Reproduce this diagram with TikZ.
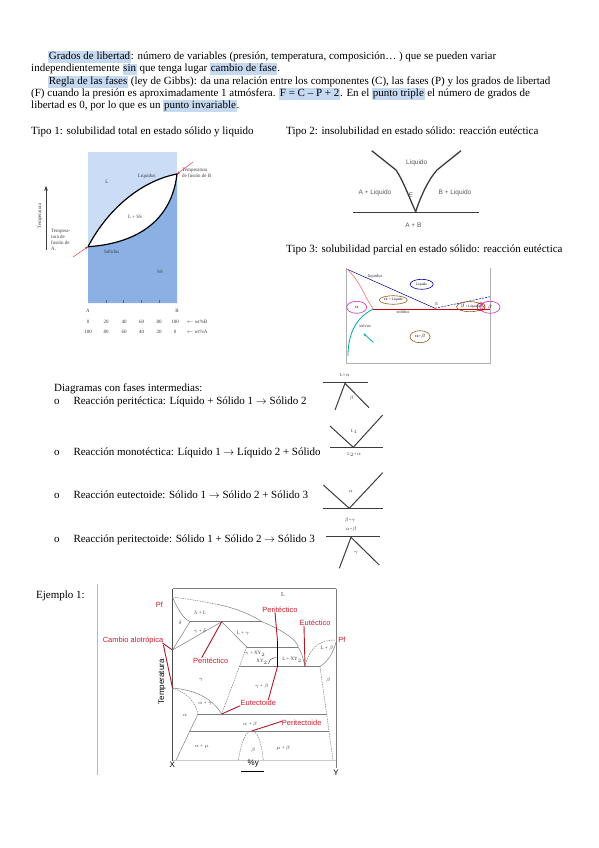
\documentclass[tikz,border=0pt]{standalone}
\usepackage{fontspec}
\setmainfont{Liberation Serif}
\newfontfamily\labsans{Liberation Sans}
\usetikzlibrary{arrows.meta,shapes.geometric}

\definecolor{hlblue}{RGB}{197,217,241}
\definecolor{liqblue}{RGB}{202,220,246}
\definecolor{solblue}{RGB}{139,177,228}
\definecolor{redmark}{RGB}{205,30,45}
\definecolor{phline}{RGB}{125,125,125}
\definecolor{inkgrey}{RGB}{60,60,60}
\definecolor{ringbrown}{RGB}{150,90,30}
\definecolor{ringpink}{RGB}{210,40,200}

\newcommand{\hl}[1]{{\setlength{\fboxsep}{0.7pt}\colorbox{hlblue}{\rule[-2.8pt]{0pt}{9.8pt}#1}}}

\tikzset{
  bodyline/.style={anchor=base west, inner sep=0pt, font=\fontsize{11}{12}\selectfont},
  tinylab/.style={inner sep=0pt, font=\fontsize{5}{6}\selectfont, text=inkgrey},
  minilab/.style={inner sep=0pt, font=\fontsize{4.5}{5}\selectfont, text=inkgrey},
  sanslab/.style={inner sep=0pt, font=\labsans\fontsize{6.5}{7}\selectfont, text=black!65},
  redlab/.style={inner sep=0pt, font=\labsans\fontsize{7.5}{8}\selectfont, text=redmark},
  redline/.style={draw=redmark!85!black, line width=0.9pt},
  phase/.style={draw=phline, line width=0.5pt},
  phdash/.style={phase, dash pattern=on 1.5pt off 1pt},
  vline/.style={draw=inkgrey, line width=1pt},
  ring/.style={ellipse, draw, line width=0.6pt, inner sep=0pt, font=\fontsize{3.5}{4}\selectfont},
}

\begin{document}
\begin{tikzpicture}[x=1pt,y=-1pt,>=Stealth]
\useasboundingbox[fill=white] (0,0) rectangle (599,848);

% texto de arriba
\node[bodyline] (g1) at (48,59.5) {\hl{Grados de libertad}: número de variables (presión, temperatura, composición… ) que se pueden variar};
\node[bodyline] (g2) at (31,71.8) {independientemente \hl{sin} que tenga lugar \hl{cambio de fase}.};
\node[bodyline] (g3) at (48,84.2) {\hl{Regla de las fases} (ley de Gibbs): da una relación entre los componentes (C), las fases (P) y los grados de libertad};
\node[bodyline] (g4) at (31,96.2) {(F) cuando la presión es aproximadamente 1 atmósfera. \hl{F = C – P + 2}. En el \hl{punto triple} el número de grados de};
\node[bodyline] (g5) at (31,108.5) {libertad es 0, por lo que es un \hl{punto invariable}.};

\node[bodyline] (tipo1) at (31,134.5) {Tipo 1: solubilidad total en estado sólido y liquido};
\node[bodyline] (tipo2) at (286,134.5) {Tipo 2: insolubilidad en estado sólido: reacción eutéctica};
\node[bodyline] (tipo3) at (286,252.5) {Tipo 3: solubilidad parcial en estado sólido: reacción eutéctica};

% Tipo 1
\coordinate (tA) at (88,246.7);
\coordinate (tB) at (177,174);
\fill[liqblue] (88,152) rectangle (177,303);
\fill[solblue] (tA) .. controls (115,245) and (170,235) .. (tB) -- (177,303) -- (88,303) -- cycle;
\fill[white] (tA) .. controls (110,205) and (145,180) .. (tB) .. controls (170,235) and (115,245) .. (tA);
\draw[line width=1.2pt] (tA) .. controls (110,205) and (145,180) .. (tB);
\draw[line width=1.2pt] (tA) .. controls (115,245) and (170,235) .. (tB);
\foreach \x in {105.8,123.6,141.4,159.2}
  \draw[solblue!60!black] (\x,303) -- (\x,300);
\node[tinylab] (liqs) at (146.7,176.7) {Liquidus};
\node[tinylab] (reL) at (107,181.7) {L};
\node[tinylab] (reLS) at (135,216.7) {L + SS};
\node[tinylab] (sols) at (111.7,251.7) {Sólidus};
\node[tinylab] (reSS) at (160,271.7) {SS};
\node[tinylab, align=left, anchor=north west] (tfb) at (182,168) {Temperatura\\de fusión de B};
\node[tinylab, align=left, anchor=north west] (tfa) at (51,229) {Tempera-\\tura de\\fusión de\\A.};
\node[tinylab, rotate=90] (tax) at (40,216) {Temperatura};
\draw[->, inkgrey] (46,250) -- (46,186);
\draw[redmark, -{Stealth[length=3pt,width=2.5pt]}] (193,162) -- (tB);
\draw[redmark, -{Stealth[length=3pt,width=2.5pt]}] (73,257) -- (tA);
\node[tinylab] (ax1) at (88,311) {A};
\node[tinylab] (bx1) at (177,311) {B};
\foreach \x/\v in {88/0,106/20,124/40,141.5/60,159/80,175/100}
  \node[tinylab] at (\x,321.7) {\v};
\foreach \x/\v in {88/100,106/80,124/60,141.5/40,159/20,175/0}
  \node[tinylab] at (\x,331.7) {\v};
\node[tinylab] (wtb) at (197,321.7) {$\leftarrow$ wt\%B};
\node[tinylab] (wta) at (197,331.7) {$\leftarrow$ wt\%A};

% Tipo 2
\draw[vline, line width=1.3pt] (353.3,212.7) -- (479,212.7);
\coordinate (eut2) at (415.7,211.7);
\draw[vline, line width=1.3pt] (371.7,150.7) -- (396,170) .. controls (404,182) and (410,200) .. (eut2);
\draw[vline, line width=1.3pt] (eut2) .. controls (420,198) and (428,180) .. (437,170) -- (461,150.7);
\node[sanslab] (liq2) at (416.7,162.7) {Liquido};
\node[sanslab] (al2) at (375,192.7) {A + Liquido};
\node[sanslab] (e2) at (410.7,195) {E};
\node[sanslab] (bl2) at (455,192.7) {B + Liquido};
\node[sanslab] (ab2) at (413.3,225) {A + B};

% Tipo 3
\draw[gray!60, line width=0.7pt] (346.7,268) -- (346.7,363.3) -- (490,363.3) -- (490,268);
\coordinate (te3) at (435,308.3);
\coordinate (ts3) at (373.3,309);
\draw[blue!60!black, line width=0.5pt] (346.7,269) -- (te3);
\draw[blue!60!black, line width=0.5pt, dash pattern=on 2pt off 1.2pt] (te3) -- (490,296.7);
\draw[red!80!black, line width=0.8pt] (ts3) -- (490,309);
\draw[red!50, line width=0.7pt] (346.7,269) .. controls (360,280) and (366,300) .. (ts3);
\draw[teal!70!cyan, line width=0.8pt] (ts3) .. controls (355,318) and (348,335) .. (348,356);
\draw[teal!70!cyan, line width=0.8pt, -{Stealth[length=3pt]}] (373.3,342.3) -- (363.3,333.3);
\node[minilab] (liqs3) at (375,276.7) {liquidus};
\node[minilab] (sols3) at (403,312.3) {sólidus};
\node[minilab] (solv3) at (365,325.7) {solvus};
\node[minilab] (e3) at (436.7,304.3) {E};
\node[ring, draw=blue!70!black, minimum width=23pt, minimum height=10pt] (r1) at (421.7,284.3) {Líquido};
\node[ring, draw=ringbrown, minimum width=28pt, minimum height=8.5pt] (r2) at (393.3,300) {$\alpha$ + Líquido};
\node[ring, draw=ringbrown, minimum width=23pt, minimum height=10pt] (r3) at (470,306.7) {$\beta$ + Líquido};
\node[ring, draw=red!80!black, circle, minimum size=8pt] (r4) at (481,306.7) {$\beta$};
\node[ring, draw=ringpink, minimum width=20pt, minimum height=12pt] (r5) at (356.7,307.3) {$\alpha$};
\node[ring, draw=ringpink, minimum width=20pt, minimum height=12pt] (r6) at (490,307.3) {$\beta$};
\node[ring, draw=ringbrown, minimum width=20pt, minimum height=12pt] (r7) at (420,336.7) {$\alpha$+$\beta$};

% fases intermedias
\node[bodyline] (dfi) at (54,391.5) {Diagramas con fases intermedias:};
\foreach \n/\y/\txt in {1/404.2/Reacción peritéctica: Líquido + Sólido 1 $\rightarrow$ Sólido 2,
    2/455.8/Reacción monotéctica: Líquido 1 $\rightarrow$ Líquido 2 + Sólido,
    3/498.8/Reacción eutectoide: Sólido 1 $\rightarrow$ Sólido 2 + Sólido 3,
    4/542.2/Reacción peritectoide: Sólido 1 + Sólido 2 $\rightarrow$ Sólido 3} {
  \node[bodyline] (o\n) at (54,\y) {o};
  \node[bodyline] (r\n) at (73.3,\y) {\txt};
}
% peritectica
\coordinate (pv) at (345,383.3);
\draw[vline] (323.3,382.3) -- (368.3,382.3);
\draw[vline] (335,410) -- (pv) -- (369,407.7);
\node[minilab] (pl1) at (345,375) {L+$\alpha$};
\node[minilab] (pl2) at (351.7,398.3) {$\beta$};
% monotectica
\coordinate (mv) at (353.3,447.3);
\draw[vline] (330,447.3) -- (382.7,447.3);
\draw[vline] (330,426) -- (mv) -- (382.7,415);
\node[minilab] (ml1) at (354.3,431.7) {L$_1$};
\node[minilab] (ml2) at (354.3,454.3) {L$_2$+$\alpha$};
% eutectoide
\coordinate (ev) at (349.3,508.3);
\draw[vline] (323.3,508.3) -- (382.7,508.3);
\draw[vline] (323.3,485) -- (ev) -- (382.7,472.7);
\node[minilab] (el1) at (350.7,491.7) {$\alpha$};
\node[minilab] (el2) at (350,520) {$\beta$+$\gamma$};
% peritectoide
\coordinate (qv) at (351,537.3);
\draw[vline] (326,536.7) -- (380,536.7);
\draw[vline] (339.3,568.3) -- (qv) -- (379.3,565);
\node[minilab] (ql1) at (351,529.3) {$\alpha$+$\beta$};
\node[minilab] (ql2) at (356,553.3) {$\gamma$};

% Ejemplo 1
\node[bodyline] (ej) at (36,598.5) {Ejemplo 1:};
\draw[gray!55, line width=0.8pt] (97.7,584) -- (97.7,775);

\coordinate (pfx) at (172.5,597);
\coordinate (pA) at (190,621.7);
\coordinate (pB) at (221.7,621.7);
\coordinate (pC) at (262,621.7);
\coordinate (alo1) at (172.5,650);
\coordinate (alo2) at (172.5,688);
\coordinate (pD) at (246.7,647);
\coordinate (pF) at (298,647);
\coordinate (xytop) at (277.5,641);
\coordinate (xybot) at (277.5,666.5);
\coordinate (eu) at (305,666.5);
\coordinate (eL) at (239.4,666.5);
\coordinate (eR) at (320,666.5);
\coordinate (pfy) at (336,640);
\coordinate (ed) at (221.7,714);
\coordinate (edL) at (198,714);
\coordinate (edR) at (326.6,714);
\coordinate (ptd) at (251.7,731);
\coordinate (ptL) at (190,731);
\coordinate (ptR) at (329,731);

\draw[phase] (172.5,588.5) -- (336,588.5);
\draw[phase, gray!40] (172.5,760) -- (336,760);
\draw[draw=black!70, line width=0.6pt] (172.5,588.5) -- (172.5,761);
\draw[phase] (336,588.5) -- (336,768);
\draw[phdash] (pfx) .. controls (195,600) and (205,602) .. (218,604.5);
\draw[phase] (218,604.5) .. controls (235,608) and (250,614) .. (pC) .. controls (280,629) and (298,640) .. (pF) .. controls (302,654) .. (eu);
\draw[phase] (pfx) .. controls (178,610) and (183,618) .. (pA);
\draw[phase] (pA) -- (alo1);
\draw[phase] (alo1) -- (pB);
\draw[phase] (pA) -- (pC);
\draw[phase] (pB) -- (pD);
\draw[phase] (pD) -- (pF);
\draw[phdash] (pD) -- (ed);
\draw[phase] (eL) -- (eR);
\draw[black, line width=0.9pt] (xytop) -- (xybot);
\draw[phase, draw=black!70] (268.5,664) .. controls (270,659) .. (276,657.5);
\draw[phdash] (eu) .. controls (310,645) and (322,640) .. (pfy);
\draw[phase] (eR) .. controls (330,660) and (334,650) .. (336,642);
\draw[phdash] (eR) -- (333,760);
\draw[phase] (edL) -- (edR);
\draw[phase] (ptL) -- (ptR);
\draw[phase] (alo2) .. controls (195,690) and (212,698) .. (ed);
\draw[phdash] (alo2) .. controls (185,692) and (195,700) .. (edL);
\draw[phase] (edL) -- (176,760);
\draw[phdash] (238.3,760) .. controls (242,740) and (246,731) .. (ptd) .. controls (257,731) and (261,740) .. (263.3,760);

\node[tinylab, font=\fontsize{6}{7}\selectfont] (fL) at (283,595) {L};
\node[tinylab] (fd) at (180,623) {$\delta$};
\node[tinylab] (fdL) at (200,613) {$\lambda$ + L};
\node[tinylab] (fgd) at (200,631) {$\gamma$ + $\delta$};
\node[tinylab] (fLg) at (243,633) {L + $\gamma$};
\node[tinylab] (fgxy) at (255,654) {$\gamma$ + XY$_2$};
\node[tinylab] (fxy) at (262,661.7) {XY$_2$};
\node[tinylab] (fLxy) at (292,660) {L + XY$_2$};
\node[tinylab] (fLb) at (327,648) {L + $\beta$};
\node[tinylab] (fb) at (328.3,680) {$\beta$};
\node[tinylab] (fg) at (201,680) {$\gamma$};
\node[tinylab] (fgb) at (261.7,686.7) {$\gamma$ + $\beta$};
\node[tinylab] (fa) at (185,715) {$\alpha$};
\node[tinylab] (fag) at (205,703.3) {$\alpha$ + $\gamma$};
\node[tinylab] (fab) at (250,724) {$\alpha$ + $\beta$};
\node[tinylab] (fam) at (201.7,746.7) {$\alpha$ + $\mu$};
\node[tinylab] (fb2) at (253.3,750) {$\beta$};
\node[tinylab] (fmb) at (283.3,748) {$\mu$ + $\beta$};

\node[inner sep=0pt, font=\labsans\fontsize{8}{9}\selectfont, rotate=90] (ftemp) at (162.3,681.7) {Temperatura};
\node[inner sep=0pt, font=\labsans\fontsize{8}{9}\selectfont] (fx) at (172.3,765) {X};
\node[inner sep=0pt, font=\labsans\fontsize{8}{9}\selectfont] (fy) at (336,773) {Y};
\node[inner sep=0pt, font=\labsans\fontsize{8}{9}\selectfont] (fpy) at (253.3,764) {\%y};
\draw[line width=0.8pt] (241,771) -- (264,771);

\node[redlab] (lpf) at (159.3,605) {Pf};
\node[redlab] (lpfy) at (342,640) {Pf};
\node[redlab] (lca) at (133,641) {Cambio alotrópica};
\draw[redline] ([shift={(-1,2)}]lca.east) -- (alo1);
\draw[redline] ([shift={(0,4)}]lca.east) -- (alo2);
\node[redlab] (lper1) at (210.7,660.7) {Peritéctico};
\draw[redline] ([xshift=-9]lper1.north) -- (pB);
\node[redlab] (lper2) at (280,609.3) {Peritéctico};
\draw[redline] ([xshift=-5]lper2.south) -- (xytop);
\node[redlab] (leut) at (315,622.7) {Eutéctico};
\draw[redline] ([xshift=-11]leut.south) -- (eu);
\node[redlab] (leud) at (258.3,702.7) {Eutectoide};
\draw[redline] ([xshift=-18]leud.south) -- (ed);
\draw[redline] ([xshift=10]leud.north) -- (xybot);
\node[redlab] (lptd) at (301.7,723.3) {Peritectoide};
\draw[redline] ([yshift=2]lptd.west) -- (ptd);
\end{tikzpicture}
\end{document}
